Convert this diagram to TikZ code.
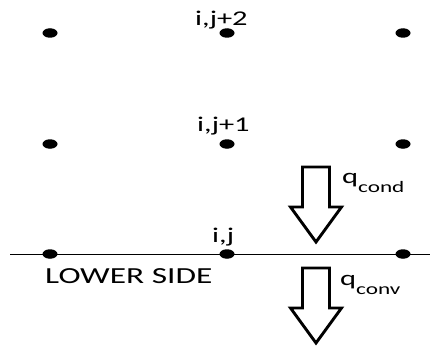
\documentclass[tikz,border=0pt]{standalone}
\usepackage{fontspec}
\setmainfont{Carlito}
\usepackage{graphicx}
\usetikzlibrary{shapes.geometric}
\newcommand{\wide}[1]{\scalebox{1.45}[1]{#1}}
\newcommand{\flux}[2]{#1\raisebox{-9pt}{\fontsize{16}{18}\selectfont #2}}

\begin{document}
\begin{tikzpicture}[
    x=1pt, y=-1pt,
    grid/.style={ellipse, fill=black, minimum width=15pt, minimum height=9.5pt, inner sep=0pt},
    lab/.style={font=\fontsize{21}{24}\selectfont, inner sep=0pt, anchor=base west},
    side/.style={draw=black, line width=0.9pt},
    heat/.style={draw=black, fill=white, line width=2.9pt, line join=miter},
    heatarrow/.pic={
        \path[heat] (0,0) -- (-25.5,-35) -- (-13.5,-35) -- (-13.5,-75)
            -- (13.5,-75) -- (13.5,-35) -- (25.5,-35) -- cycle;
    },
]
    \useasboundingbox (0,0) rectangle (430,345);

    % --- Lower side (boundary) ---
    \coordinate (sideL) at (10,254);
    \coordinate (sideR) at (430,254);
    \draw[side] (sideL) -- (sideR);

    % --- Grid points ---
    \node[grid] (p1a) at (50,33) {};
    \node[grid] (p2a) at (227,33) {};
    \node[grid] (p3a) at (403,33) {};
    \node[grid] (p1b) at (50,144) {};
    \node[grid] (p2b) at (227,144) {};
    \node[grid] (p3b) at (403,144) {};
    \node[grid] (p1c) at (50,254) {};
    \node[grid] (p2c) at (227,254) {};
    \node[grid] (p3c) at (403,254) {};

    % --- Point labels ---
    \node[lab] (l2) at (195,26) {\wide{i,j+2}};
    \node[lab] (l1) at (197,131) {\wide{i,j+1}};
    \node[lab] (l0) at (212,242) {\wide{i,j}};
    \node[lab, font=\fontsize{23}{26}\selectfont] (lside) at (45,283) {\wide{LOWER SIDE}};

    % --- Heat fluxes ---
    \pic at (316,242) {heatarrow};
    \pic at (316,343) {heatarrow};
    \node[lab] (qcond) at (342,183) {\wide{\flux{q}{cond}}};
    \node[lab] (qconv) at (340,285) {\wide{\flux{q}{conv}}};

\end{tikzpicture}
\end{document}
